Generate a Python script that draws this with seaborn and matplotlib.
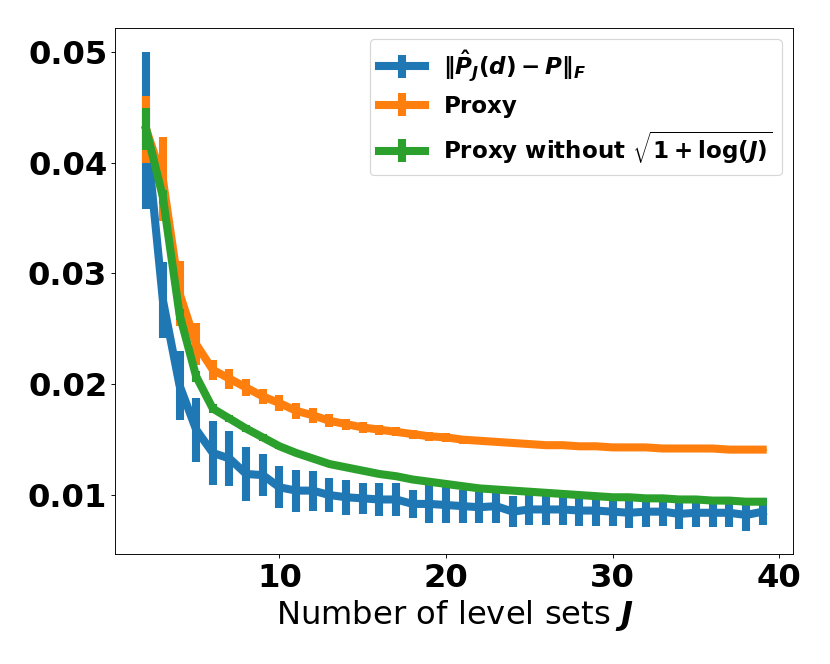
import matplotlib
matplotlib.use("Agg")
import matplotlib.pyplot as plt
import seaborn as sns
from matplotlib.legend_handler import HandlerTuple

plt.rcParams['mathtext.fontset'] = 'custom'
plt.rcParams['mathtext.rm'] = 'DejaVu Sans:bold'
plt.rcParams['mathtext.bf'] = 'DejaVu Sans:bold'
plt.rcParams['mathtext.it'] = 'DejaVu Sans:italic:bold'

# number of level sets
J = [2, 3, 4, 5, 6, 7, 8, 9, 10, 11, 12, 13, 14, 15, 16, 17, 18, 19, 20, 21,
     22, 23, 24, 25, 26, 27, 28, 29, 30, 31, 32, 33, 34, 35, 36, 37, 38, 39]

# ||P_J(d) - P||_F
err_mean = [0.0429, 0.0276, 0.0199, 0.0159, 0.0138, 0.0133, 0.0119, 0.0118, 0.0107, 0.0104,
            0.0104, 0.0100, 0.0098, 0.0097, 0.0096, 0.0096, 0.0092, 0.0092, 0.0091, 0.0090,
            0.0089, 0.0090, 0.0085, 0.0087, 0.0087, 0.0087, 0.0086, 0.0086, 0.0085, 0.0084,
            0.0085, 0.0085, 0.0083, 0.0084, 0.0084, 0.0084, 0.0082, 0.0085]
err_std = [0.0071, 0.0034, 0.0031, 0.0029, 0.0029, 0.0025, 0.0024, 0.0019, 0.0019, 0.0019,
           0.0018, 0.0015, 0.0016, 0.0014, 0.0015, 0.0015, 0.0013, 0.0017, 0.0016, 0.0015,
           0.0014, 0.0015, 0.0014, 0.0014, 0.0014, 0.0014, 0.0014, 0.0014, 0.0013, 0.0014,
           0.0014, 0.0013, 0.0014, 0.0013, 0.0013, 0.0013, 0.0014, 0.0012]

# proxy
proxy_mean = [0.0430, 0.0385, 0.0282, 0.0236, 0.0213, 0.0205, 0.0197, 0.0189, 0.0183, 0.0176,
              0.0172, 0.0167, 0.0164, 0.0161, 0.0159, 0.0157, 0.0155, 0.0153, 0.0152, 0.0150,
              0.0149, 0.0148, 0.0147, 0.0146, 0.0145, 0.0145, 0.0144, 0.0144, 0.0143, 0.0143,
              0.0143, 0.0142, 0.0142, 0.0142, 0.0142, 0.0141, 0.0141, 0.0141]
proxy_std = [0.0030, 0.0038, 0.0029, 0.0019, 0.0009, 0.0009, 0.0008, 0.0007, 0.0007, 0.0007,
             0.0007, 0.0006, 0.0005, 0.0005, 0.00045, 0.0004, 0.0004, 0.0004, 0.0004, 0.00035,
             0.0003, 0.00025, 0.0002, 0.0002, 0.00015, 0.00015, 0.0001, 0.0001, 0.0001, 0.0001,
             0.0001, 0.0001, 0.0001, 0.0001, 0.0001, 0.0001, 0.0001, 0.0001]

# proxy without sqrt(1 + log J)
nolog_mean = [0.0430, 0.0369, 0.0263, 0.0207, 0.0178, 0.0169, 0.0160, 0.0152, 0.0144, 0.0138,
              0.0133, 0.0128, 0.0125, 0.0122, 0.0119, 0.0117, 0.0114, 0.0112, 0.0110, 0.0108,
              0.0106, 0.0105, 0.0104, 0.0103, 0.0102, 0.0101, 0.0100, 0.0099, 0.0098, 0.0098,
              0.0097, 0.0097, 0.0096, 0.0096, 0.0095, 0.0095, 0.0094, 0.0094]
nolog_std = [0.0019, 0.0006, 0.0005, 0.0005, 0.0004, 0.0003, 0.0003, 0.0003, 0.0002, 0.0002,
             0.0002, 0.0002, 0.0001, 0.0001, 0.0001, 0.0001, 0.0001, 0.0001, 0.0001, 0.0001,
             0.0001, 0.0001, 0.0001, 0.0001, 0.0001, 0.0001, 0.0001, 0.0001, 0.0001, 0.0001,
             0.0001, 0.0001, 0.0001, 0.0001, 0.0001, 0.0001, 0.0001, 0.0001]

labels = [r'$\|\hat{P}_J(d) - P\|_F$', 'Proxy', r'Proxy without $\sqrt{1 + \log(J)}$']
colors = sns.color_palette('tab10', 3)

fig, ax = plt.subplots(figsize=(10, 8), dpi=83)

handles = []
series = [(err_mean, err_std), (proxy_mean, proxy_std), (nolog_mean, nolog_std)]
for (m, s), c in zip(series, colors):
    sns.lineplot(x=J, y=m, color=c, linewidth=7, ax=ax, legend=False)
    line = ax.lines[-1]
    bars = ax.errorbar(J, m, yerr=s, fmt='none', ecolor=c, elinewidth=7)
    handles.append((line, bars))

leg = ax.legend(handles, labels, handler_map={tuple: HandlerTuple(ndivide=1)},
                loc='upper right', prop={'weight': 'bold', 'size': 20})
leg.get_frame().set_edgecolor('0.8')

ax.set_xlabel('Number of level sets $J$', fontsize=28)
ax.set_xticks([10, 20, 30, 40])
ax.set_yticks([0.01, 0.02, 0.03, 0.04, 0.05])
for t in ax.get_xticklabels() + ax.get_yticklabels():
    t.set_fontsize(28)
    t.set_fontweight('bold')

plt.subplots_adjust(left=0.139, right=0.956, top=0.958, bottom=0.165)
fig.savefig('out.png', dpi=83)
